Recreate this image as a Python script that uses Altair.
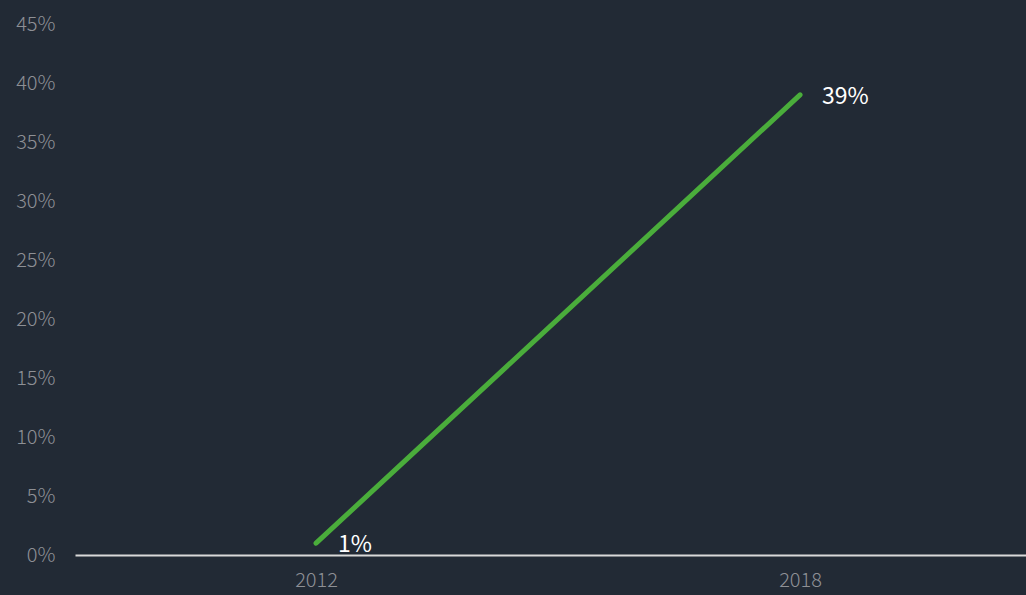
import altair as alt
import pandas as pd
import jinja2

years = [2012, 2018]
shares = [0.01, 0.39]
labels = ["1%", "39%"]

df = pd.DataFrame({"year": years, "share": shares, "label": labels})

FONT = "Noto Sans CJK SC"
BG = "#222a35"

x = alt.X("year:Q",
          scale=alt.Scale(domain=[2009.012, 2020.801], nice=False, zero=False),
          axis=alt.Axis(values=years, format="d", title=None, grid=False, ticks=False,
                        domain=True, domainColor="#d9d9d9", domainWidth=2,
                        labelColor="#8e9095", labelFont=FONT, labelFontSize=20,
                        labelPadding=15, labelFontWeight=300))
y = alt.Y("share:Q",
          scale=alt.Scale(domain=[0, 0.45], nice=False),
          axis=alt.Axis(values=[i * 0.05 for i in range(10)], format=".0%", title=None,
                        grid=False, ticks=False, domain=False,
                        labelColor="#8e9095", labelFont=FONT, labelFontSize=20,
                        labelPadding=20, labelFontWeight=300))

line = alt.Chart(df).mark_line(color="#4aad3b", strokeWidth=5, strokeCap="round").encode(x=x, y=y)
text = alt.Chart(df).mark_text(align="left", baseline="middle", dx=22, dy=2, color="#ffffff",
                               font=FONT, fontSize=23).encode(x=x, y=y, text="label:N")

chart = (line + text).properties(
    width=951, height=531,
    autosize=alt.AutoSizeParams(type="none"),
    padding={"left": 75, "top": 24, "right": 0, "bottom": 40},
    background=BG,
).configure_view(stroke=None)

TEMPLATE = jinja2.Template("""<!DOCTYPE html>
<html>
<head>
  <meta charset="utf-8">
  <style>
    html, body { margin: 0; padding: 0; background: """ + BG + """; overflow: hidden; }
    #{{ output_div }}.vega-embed { display: block; }
  </style>
  <script type="text/javascript" src="{{ base_url }}/vega@{{ vega_version }}"></script>
  <script type="text/javascript" src="{{ base_url }}/vega-lite@{{ vegalite_version }}"></script>
  <script type="text/javascript" src="{{ base_url }}/vega-embed@{{ vegaembed_version }}"></script>
</head>
<body>
  <div id="{{ output_div }}"></div>
  <script>
    vegaEmbed("#{{ output_div }}", {{ spec }}, {{ embed_options }}).catch(console.error);
  </script>
</body>
</html>
""")

chart.save("out.html", embed_options={"renderer": "svg", "actions": False}, template=TEMPLATE)
